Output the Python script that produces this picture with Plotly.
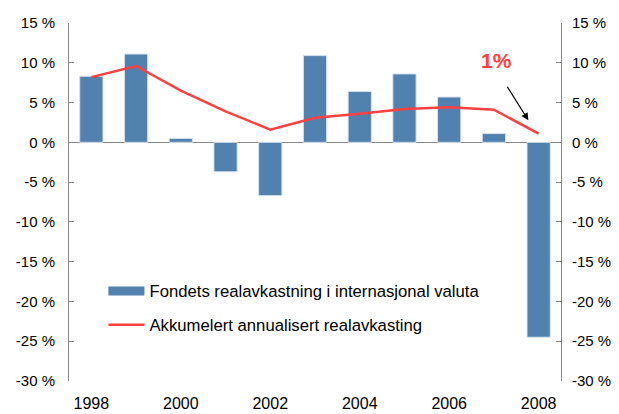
import plotly.graph_objects as go

years = [1998, 1999, 2000, 2001, 2002, 2003, 2004, 2005, 2006, 2007, 2008]
real_return = [8.3, 11.1, 0.5, -3.7, -6.7, 10.9, 6.4, 8.6, 5.7, 1.1, -24.5]
cum_annualized = [8.2, 9.6, 6.5, 3.9, 1.6, 3.1, 3.6, 4.2, 4.4, 4.1, 1.1]
tick_vals = [15, 10, 5, 0, -5, -10, -15, -20, -25, -30]
tick_text = [f"{v} %" for v in tick_vals]
x_ticks = [1998, 2000, 2002, 2004, 2006, 2008]

bar_name = "Fondets realavkastning i internasjonal valuta"
line_name = "Akkumelert annualisert realavkasting"
bar_color = "#5181AF"
line_color = "#FF4040"
axis_color = "#868686"

fig = go.Figure()
fig.add_trace(go.Bar(x=years, y=real_return, width=0.52, marker=dict(color=bar_color, line=dict(color="#D8E2EE", width=1)),
                     showlegend=False))
fig.add_trace(go.Scatter(x=years, y=cum_annualized, mode="lines", line=dict(color=line_color, width=2.5),
                         showlegend=False))
# legend entries
fig.add_trace(go.Scatter(x=[None], y=[None], mode="lines", name=bar_name, line=dict(color=bar_color, width=9),
                         legendgroup="a"))
fig.add_trace(go.Scatter(x=[None], y=[None], mode="lines", name=line_name, line=dict(color=line_color, width=2.5),
                         legendgroup="b"))
# invisible trace for right axis
fig.add_trace(go.Scatter(x=[None], y=[None], yaxis="y2", showlegend=False))

font = dict(family="Liberation Sans, Arial, sans-serif", size=15, color="#000000")
fig.update_layout(
    width=619, height=414,
    margin=dict(l=61, r=66, t=15, b=41),
    paper_bgcolor="white", plot_bgcolor="white",
    font=font,
    xaxis=dict(range=[1997.5, 2008.5], tickvals=x_ticks, showgrid=False, zeroline=False, showline=False,
               ticks="", tickfont=dict(size=16), automargin=False, ticklabelstandoff=11),
    yaxis=dict(range=[-30, 15], tickvals=tick_vals, ticktext=tick_text, showgrid=False, automargin=False,
               zeroline=True, zerolinecolor=axis_color, zerolinewidth=1,
               showline=True, linecolor=axis_color, linewidth=1, ticks="inside", ticklen=5, tickcolor=axis_color,
               ticklabelstandoff=10),
    yaxis2=dict(range=[-30, 15], tickvals=tick_vals, ticktext=tick_text, overlaying="y", side="right",
                showgrid=False, zeroline=False, showline=True, linecolor=axis_color, linewidth=1, automargin=False,
                ticks="inside", ticklen=5, tickcolor=axis_color, ticklabelstandoff=7),
    legend=dict(x=0.07, y=0.30, xanchor="left", yanchor="top", bgcolor="rgba(0,0,0,0)",
                font=dict(size=16.7), itemwidth=36, tracegroupgap=9, traceorder="grouped"),
    annotations=[
        dict(x=2007.05, y=10.3, text="<b>1%</b>", showarrow=False, font=dict(size=21, color=line_color)),
        dict(x=2007.77, y=2.77, ax=-22, ay=-35, text="", showarrow=True, arrowhead=2, arrowsize=1.2,
             arrowwidth=1.2, arrowcolor="black"),
    ],
)
fig.write_html("out.html")
